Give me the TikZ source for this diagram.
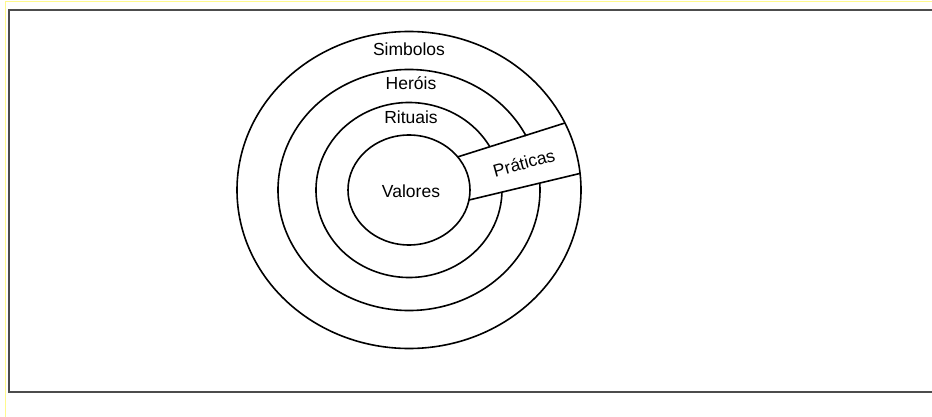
\documentclass[tikz,border=0pt]{standalone}
\usepackage{fontspec}
\setmainfont{Liberation Sans}
\usetikzlibrary{calc}
\begin{document}
\begin{tikzpicture}[x=1pt,y=1pt,
    ring/.style={line width=1.6pt},
    lbl/.style={font=\fontsize{17.5}{20}\selectfont, anchor=base, inner sep=0pt}]
\useasboundingbox (0,0) rectangle (932,-417);
\draw[yellow!45, line width=0.8pt] (5,-417) -- (5,-1) -- (932,-1);
\draw[black!70, line width=1.6pt] (932,-10) -- (9,-10) -- (9,-392) -- (932,-392);
\coordinate (c) at (409,-190);
\draw[ring] (c) ellipse[x radius=172, y radius=158.5];
\draw[ring] ($(c)+(26.6:131 and 120.5)$) arc[start angle=26.6, end angle=363.3, x radius=131, y radius=120.5];
\draw[ring] ($(c)+(30:93 and 87.5)$) arc[start angle=30, end angle=358, x radius=93, y radius=87.5];
\draw[ring] (c) ellipse[x radius=61, y radius=55];
\coordinate (upin) at ($(c)+(37:61 and 55)$);
\coordinate (upout) at ($(c)+(25:172 and 158.5)$);
\coordinate (lowin) at ($(c)+(-10.5:61 and 55)$);
\coordinate (lowout) at ($(c)+(6:172 and 158.5)$);
\draw[ring] (upin) -- (upout);
\draw[ring] (lowin) -- (lowout);
\node[lbl] (simb) at (409,-56) {Simbolos};
\node[lbl] (her) at (411,-90) {Heróis};
\node[lbl] (rit) at (411,-124) {Rituais};
\node[lbl] (val) at (411,-197) {Valores};
\node[font=\fontsize{17.5}{20}\selectfont, inner sep=0pt, rotate=15.5] (prat) at (524,-163) {Práticas};
\end{tikzpicture}
\end{document}
